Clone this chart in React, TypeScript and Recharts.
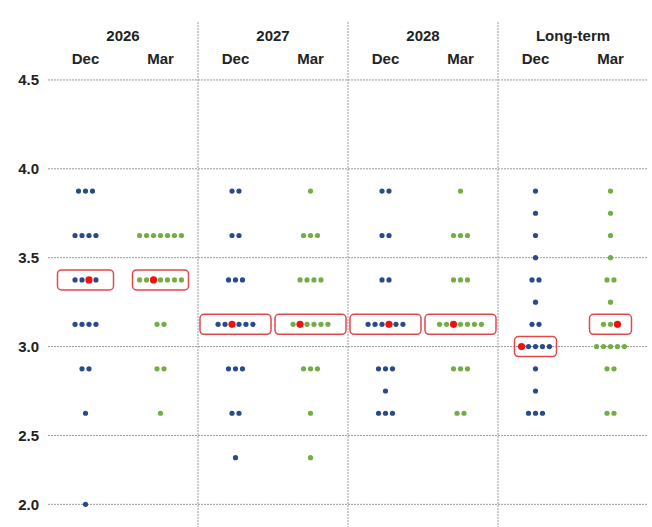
import { ScatterChart, Scatter, XAxis, YAxis, ReferenceLine } from "recharts";

const periods = ["2026", "2027", "2028", "Long-term"];
const months = ["Dec", "Mar"];
const yTicks = [4.5, 4.0, 3.5, 3.0, 2.5, 2.0];

// [rate, number of dots] for each column
const dec2026 = [[3.875, 3], [3.625, 4], [3.375, 4], [3.125, 4], [2.875, 2], [2.625, 1], [2.0, 1]];
const mar2026 = [[3.625, 7], [3.375, 7], [3.125, 2], [2.875, 2], [2.625, 1]];
const dec2027 = [[3.875, 2], [3.625, 2], [3.375, 3], [3.125, 6], [2.875, 3], [2.625, 2], [2.375, 1]];
const mar2027 = [[3.875, 1], [3.625, 3], [3.375, 4], [3.125, 6], [2.875, 3], [2.625, 1], [2.375, 1]];
const dec2028 = [[3.875, 2], [3.625, 2], [3.375, 2], [3.125, 6], [2.875, 3], [2.75, 1], [2.625, 3]];
const mar2028 = [[3.875, 1], [3.625, 3], [3.375, 3], [3.125, 7], [2.875, 3], [2.625, 2]];
const decLong = [[3.875, 1], [3.75, 1], [3.625, 1], [3.5, 1], [3.375, 2], [3.25, 1], [3.125, 2], [3.0, 5], [2.875, 1], [2.75, 1], [2.625, 3]];
const marLong = [[3.875, 1], [3.75, 1], [3.625, 1], [3.5, 1], [3.375, 2], [3.25, 1], [3.125, 3], [3.0, 5], [2.875, 2], [2.625, 2]];

// median row per column and which dot in that row is the red one
const medianRate = [3.375, 3.375, 3.125, 3.125, 3.125, 3.125, 3.0, 3.125];
const medianSlot = [2, 2, 2, 1, 3, 2, 0, 2];

const BLUE = "#2b4a8b";
const GREEN = "#74ad45";
const RED = "#f2100f";
const BOX = "#e2474e";
const GRID = "#9a9a9a";
const DOT_STEP = 0.093; // x units between dots in a row
const BOX_WIDTH = [56, 71, 71, 42];

// the reference squeezes the axis below 2.375
const toAxis = (v: number) => (v >= 2.375 ? v : 2.375 - (2.375 - v) * 0.7);

const columns = [dec2026, mar2026, dec2027, mar2027, dec2028, mar2028, decLong, marLong];

const dots = columns.flatMap((rows, c) =>
  rows.flatMap(([rate, n]) =>
    Array.from({ length: n }, (_, i) => ({
      x: c + 0.5 + (i - (n - 1) / 2) * DOT_STEP,
      y: toAxis(rate),
      median: rate === medianRate[c] && i === medianSlot[c],
      fill: c % 2 === 0 ? BLUE : GREEN,
    }))
  )
);
const plainDots = dots.filter((d) => !d.median);
const redDots = dots.filter((d) => d.median);
const boxes = medianRate.map((r, c) => ({ x: c + 0.5, y: toAxis(r), w: BOX_WIDTH[Math.floor(c / 2)] }));

const headerTicks = [0.5, 1, 1.5, 2.5, 3, 3.5, 4.5, 5, 5.5, 6.5, 7, 7.5];

function HeaderTick(props: any) {
  const { x, payload } = props;
  const v = payload.value;
  const isYear = Number.isInteger(v);
  return (
    <text x={x} y={isYear ? 41 : 64} textAnchor="middle" fontSize={15} fontWeight="bold" fill="#222">
      {isYear ? periods[(v - 1) / 2] : months[Math.floor(v) % 2]}
    </text>
  );
}

export default function App() {
  return (
    <div style={{ position: "absolute", left: 0, top: 0, background: "#fff" }}>
      <ScatterChart
        width={652}
        height={527}
        margin={{ top: 0, right: 4, bottom: 0, left: 0 }}
        style={{ fontFamily: "'Liberation Sans', Arial, sans-serif" }}
      >
        <XAxis
          type="number"
          dataKey="x"
          orientation="top"
          domain={[0, 8]}
          ticks={headerTicks}
          interval={0}
          height={22}
          axisLine={false}
          tickLine={false}
          tick={<HeaderTick />}
        />
        <YAxis
          type="number"
          dataKey="y"
          domain={[1.985, 4.826]}
          allowDataOverflow
          ticks={yTicks.map(toAxis)}
          tickFormatter={(v: number) => (v < 2.3 ? "2.0" : v.toFixed(1))}
          axisLine={false}
          tickLine={false}
          tickMargin={3}
          width={48}
          tick={{ fontSize: 15, fontWeight: "bold", fill: "#222" }}
        />
        {yTicks.map((t) => (
          <ReferenceLine key={t} y={toAxis(t)} stroke={GRID} strokeDasharray="2 1" />
        ))}
        {[2, 4, 6].map((x) => (
          <ReferenceLine key={x} x={x} stroke={GRID} strokeDasharray="2 1" />
        ))}
        <Scatter
          data={plainDots}
          isAnimationActive={false}
          shape={(p: any) => <circle cx={p.cx} cy={p.cy} r={2.6} fill={p.payload.fill} />}
        />
        <Scatter
          data={boxes}
          isAnimationActive={false}
          shape={(p: any) => (
            <rect
              x={p.cx - p.payload.w / 2}
              y={p.cy - 10}
              width={p.payload.w}
              height={20}
              rx={4}
              fill="none"
              stroke={BOX}
              strokeWidth={1.5}
            />
          )}
        />
        <Scatter
          data={redDots}
          isAnimationActive={false}
          shape={(p: any) => <circle cx={p.cx} cy={p.cy} r={3.6} fill={RED} />}
        />
      </ScatterChart>
    </div>
  );
}
